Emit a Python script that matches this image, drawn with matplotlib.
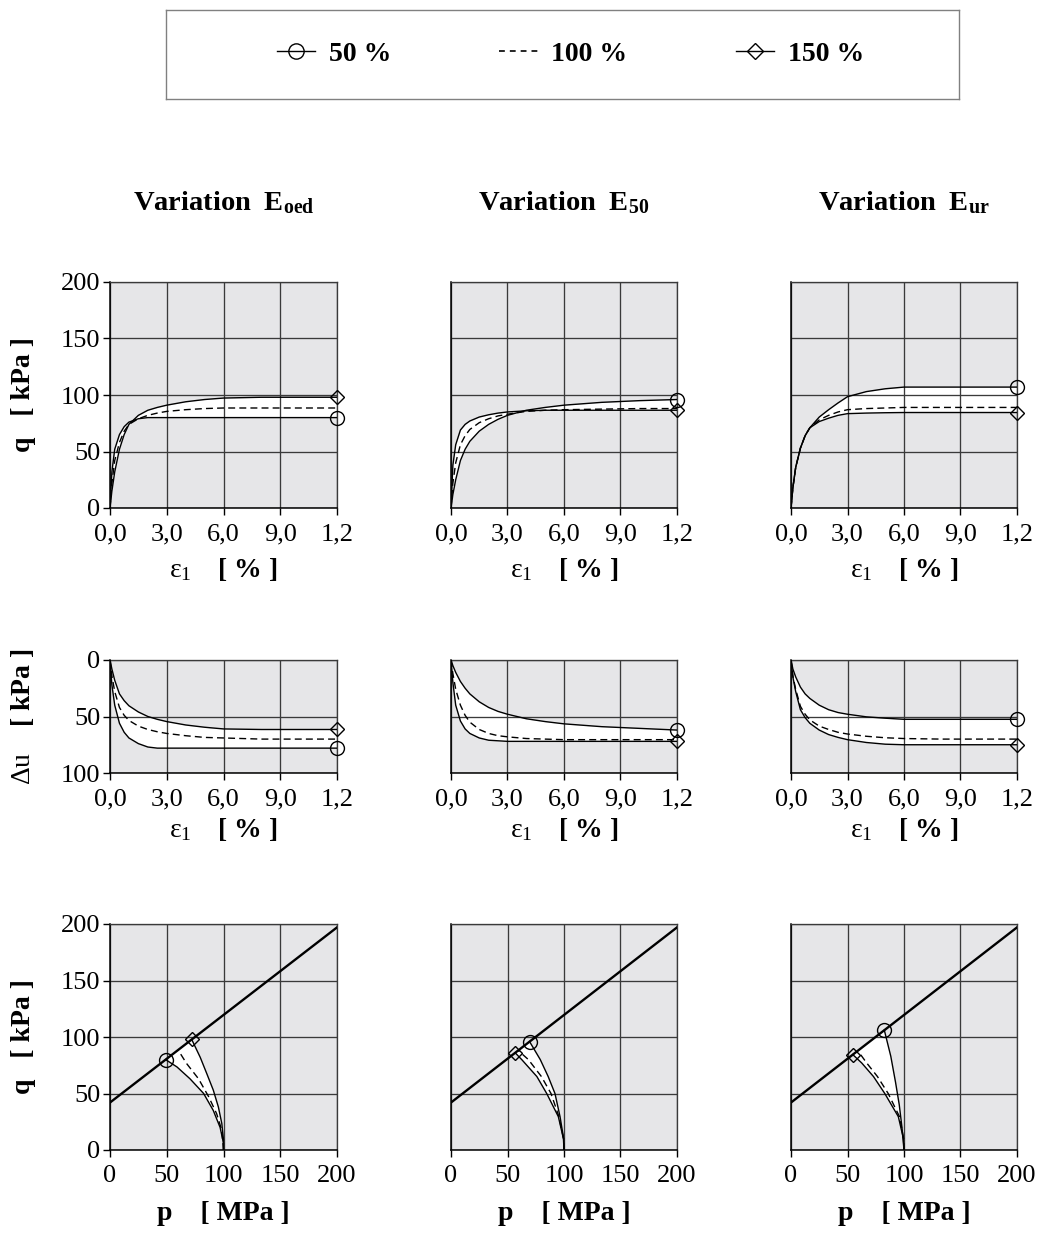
import matplotlib
matplotlib.use("Agg")
import matplotlib.pyplot as plt
from matplotlib.lines import Line2D
import numpy as np

plt.rcParams['font.family'] = ['Liberation Serif', 'DejaVu Serif']
plt.rcParams['mathtext.fontset'] = 'custom'
plt.rcParams['mathtext.rm'] = 'Liberation Serif'
plt.rcParams['mathtext.it'] = 'Liberation Serif:italic'
plt.rcParams['mathtext.bf'] = 'Liberation Serif:bold'

# ---------------------------------------------------------------- data
levels = ["50 %", "100 %", "150 %"]
titles = [r"$\mathbf{Variation\ \ E_{oed}}$",
          r"$\mathbf{Variation\ \ E_{50}}$",
          r"$\mathbf{Variation\ \ E_{ur}}$"]

strain = [0, 0.1, 0.25, 0.5, 0.75, 1.0, 1.5, 2.0, 2.5, 3.0, 4.0, 5.0, 6.0, 8.0, 10.0, 12.0]
strain_ticks = [0, 3, 6, 9, 12]
strain_ticklabels = ["0,0", "3,0", "6,0", "9,0", "1,2"]

# deviatoric stress q [kPa] against axial strain
q_oed_50 = [0, 32, 52, 65, 72, 76, 79, 80, 80, 80, 80, 80, 80, 80, 80, 80]
q_oed_100 = [0, 22, 42, 58, 68, 74, 79, 82, 84, 85.5, 87, 88, 88.5, 88.5, 88.5, 88.5]
q_oed_150 = [0, 15, 32, 52, 65, 74, 82, 86.5, 89, 91, 94, 96, 97.3, 98, 98, 98]

q_e50_50 = [0, 12, 25, 42, 52, 59, 68, 74, 78.5, 82, 86.5, 89, 91, 93.5, 95, 96]
q_e50_100 = [0, 22, 40, 56, 64, 69.5, 75.5, 79, 81.5, 83, 85.5, 86.5, 87, 87.5, 88, 88]
q_e50_150 = [0, 38, 56, 69, 74, 77, 80.5, 82.5, 84, 85, 86, 86.5, 86.5, 86.5, 86.5, 86.5]

q_eur_50 = [0, 18, 36, 53, 64, 71, 80.5, 87, 93, 98.5, 103, 105.5, 107, 107, 107, 107]
q_eur_100 = [0, 18, 36, 53, 64, 71, 78, 82, 85, 87, 88, 88.5, 89, 89, 89, 89]
q_eur_150 = [0, 18, 36, 53, 64, 71, 76.5, 79.5, 82, 83.5, 84, 84.3, 84.5, 84.5, 84.5, 84.5]

# excess pore pressure du [kPa] against axial strain
du_oed_50 = [0, 22, 40, 56, 64, 69, 74, 77, 78, 78, 78, 78, 78, 78, 78, 78]
du_oed_100 = [0, 14, 28, 42, 49, 53.5, 58.5, 61.5, 63.5, 65, 67, 68.5, 69, 70, 70, 70]
du_oed_150 = [0, 8, 18, 30, 36, 40.5, 46, 50, 52.5, 54.5, 57.5, 59.5, 61, 61.5, 61.5, 61.5]

du_e50_50 = [0, 5, 11, 19, 25, 30, 37, 42, 45.5, 48, 52, 54.5, 56.5, 59, 60.5, 62]
du_e50_100 = [0, 12, 26, 40, 49, 55, 61.5, 65, 67, 68, 69.5, 70, 70.5, 70.5, 70.5, 70.5]
du_e50_150 = [0, 20, 40, 54, 61, 65, 69, 71, 71.5, 72, 72, 72, 72, 72, 72, 72]

du_eur_50 = [0, 8, 15, 24, 30, 34, 40, 44, 46.5, 48, 50.3, 51.5, 52.5, 52.5, 52.5, 52.5]
du_eur_100 = [0, 14, 26, 41, 48, 53, 58.5, 61.5, 64, 65.5, 67.5, 68.8, 69.5, 70, 70, 70]
du_eur_150 = [0, 15, 28, 44, 51, 56, 62, 66, 68.5, 70.5, 73, 74.5, 75, 75, 75, 75]

# effective stress paths (p, q)
path_oed_50_p = [100, 100, 97, 91, 82.5, 70.5, 59, 49]
path_oed_50_q = [0, 6, 20, 35, 50, 63, 73.5, 80]
path_oed_100_p = [100, 99.5, 98.5, 94, 87, 78, 67.5, 60]
path_oed_100_q = [0, 6, 17.5, 32, 47, 63, 76.5, 88.5]
path_oed_150_p = [100, 100, 98.5, 95.5, 91, 85.3, 79.5, 72]
path_oed_150_q = [0, 9, 23.5, 38, 53, 67.5, 82, 97.8]

path_e50_50_p = [100, 99.7, 96.5, 92, 86, 79, 69.5]
path_e50_50_q = [0, 10, 29.5, 50, 65, 80, 96]
path_e50_100_p = [100, 99.6, 95.5, 88.5, 80, 68.5, 59.5]
path_e50_100_q = [0, 10, 29.5, 50, 65, 80, 88]
path_e50_150_p = [100, 99.5, 95, 84.7, 76, 62.6, 56.8]
path_e50_150_q = [0, 10, 29.5, 50, 65, 80, 86]

path_eur_50_p = [100, 98.2, 95.8, 92.5, 88.3, 82.6]
path_eur_50_q = [0, 20, 40, 60, 83, 106]
path_eur_100_p = [100, 99.7, 96, 86, 76.5, 67, 59.7]
path_eur_100_q = [0, 10, 29.5, 50, 65, 77, 87]
path_eur_150_p = [100, 99.5, 95, 83, 73, 62.6, 54.7]
path_eur_150_q = [0, 10, 29.5, 50, 65, 77, 84.4]

# Mohr-Coulomb failure line in p-q space
failure_p = [0, 200]
failure_q = [42, 197]

q_series = [(q_oed_50, q_oed_100, q_oed_150),
            (q_e50_50, q_e50_100, q_e50_150),
            (q_eur_50, q_eur_100, q_eur_150)]
du_series = [(du_oed_50, du_oed_100, du_oed_150),
             (du_e50_50, du_e50_100, du_e50_150),
             (du_eur_50, du_eur_100, du_eur_150)]
path_series = [((path_oed_50_p, path_oed_50_q), (path_oed_100_p, path_oed_100_q), (path_oed_150_p, path_oed_150_q)),
               ((path_e50_50_p, path_e50_50_q), (path_e50_100_p, path_e50_100_q), (path_e50_150_p, path_e50_150_q)),
               ((path_eur_50_p, path_eur_50_q), (path_eur_100_p, path_eur_100_q), (path_eur_150_p, path_eur_150_q))]

# ---------------------------------------------------------------- styling
W, H = 1041, 1233
BG = "#e6e6e8"
GRID = "#3a3a3a"
LW = 1.0
DASH = (0, (5, 3))
TICK_FS = 19
LABEL_FS = 20

fig = plt.figure(figsize=(W / 100, H / 100), dpi=100)


def box(l, t, r, b):
    return [l / W, 1 - b / H, (r - l) / W, (b - t) / H]


col_x = [(110, 337), (451, 677), (791, 1017)]
row_y = [(282, 508), (660, 773), (924, 1150)]


def style_axes(ax, show_y):
    ax.set_facecolor(BG)
    ax.set_axisbelow('line')
    ax.grid(True, color=GRID, lw=0.95)
    for side in ("left", "bottom"):
        ax.spines[side].set_color("black")
        ax.spines[side].set_linewidth(1.1)
    for side in ("top", "right"):
        ax.spines[side].set_color(GRID)
        ax.spines[side].set_linewidth(0.95)
    ax.tick_params(axis='x', direction='out', length=5, width=1, pad=6,
                   labelsize=TICK_FS)
    if show_y:
        ax.tick_params(axis='y', direction='out', length=5, width=1, pad=2,
                       labelsize=TICK_FS)
    else:
        ax.tick_params(axis='y', length=0, labelleft=False)


def end_markers(ax, x50, y50, x150, y150):
    ax.plot([x50], [y50], marker='o', ms=10, mfc='none', mec='black',
            mew=1.0, ls='none', clip_on=False, zorder=5)
    ax.plot([x150], [y150], marker='D', ms=7, mfc='none', mec='black',
            mew=1.0, ls='none', clip_on=False, zorder=5)


def strain_panel(ax, s50, s100, s150):
    lo = np.minimum(np.minimum(s50, s100), s150)
    hi = np.maximum(np.maximum(s50, s100), s150)
    ax.fill_between(strain, lo, hi, color='white', lw=0, zorder=1)
    ax.plot(strain, s50, color='black', lw=LW, zorder=3)
    ax.plot(strain, s100, color='black', lw=LW, ls=DASH, zorder=3)
    ax.plot(strain, s150, color='black', lw=LW, zorder=3)
    end_markers(ax, strain[-1], s50[-1], strain[-1], s150[-1])
    ax.set_xlim(0, 12)
    ax.set_xticks(strain_ticks)
    ax.set_xticklabels(strain_ticklabels)


eps_label = r"$\mathrm{ε}_{\mathrm{1}}\ \ \ \ \mathbf{[\ \%\ ]}$"

for c in range(3):
    l, r = col_x[c]

    # title above each column
    fig.text((l + r) / 2 / W, 1 - 203 / H, titles[c], ha='center', va='center',
             fontsize=20.5)

    # q - strain
    ax = fig.add_axes(box(l, row_y[0][0], r, row_y[0][1]))
    style_axes(ax, c == 0)
    strain_panel(ax, *q_series[c])
    ax.set_ylim(0, 200)
    ax.set_yticks([0, 50, 100, 150, 200])
    ax.set_xlabel(eps_label, fontsize=LABEL_FS, labelpad=8)
    if c == 0:
        ax.set_ylabel("q   [ kPa ]", fontsize=LABEL_FS, fontweight='bold',
                      labelpad=18)

    # pore pressure - strain
    ax = fig.add_axes(box(l, row_y[1][0], r, row_y[1][1]))
    style_axes(ax, c == 0)
    strain_panel(ax, *du_series[c])
    ax.set_ylim(100, 0)
    ax.set_yticks([0, 50, 100])
    ax.set_xlabel(eps_label, fontsize=LABEL_FS, labelpad=4)
    if c == 0:
        ax.set_ylabel(r"$\mathrm{Δu}\ \ \ \ \mathbf{[\ kPa\ ]}$",
                      fontsize=LABEL_FS, labelpad=18)

    # stress paths
    ax = fig.add_axes(box(l, row_y[2][0], r, row_y[2][1]))
    style_axes(ax, c == 0)
    (p50, q50), (p100, q100), (p150, q150) = path_series[c]
    ax.fill(list(p50) + list(p150[::-1]), list(q50) + list(q150[::-1]),
            color='white', lw=0, zorder=1)
    ax.plot(failure_p, failure_q, color='black', lw=1.7, zorder=3)
    ax.plot(p50, q50, color='black', lw=LW, zorder=3)
    ax.plot(p100, q100, color='black', lw=LW, ls=DASH, zorder=3)
    ax.plot(p150, q150, color='black', lw=LW, zorder=3)
    end_markers(ax, p50[-1], q50[-1], p150[-1], q150[-1])
    ax.set_xlim(0, 200)
    ax.set_ylim(0, 200)
    ax.set_xticks([0, 50, 100, 150, 200])
    ax.set_yticks([0, 50, 100, 150, 200])
    ax.set_xlabel("p    [ MPa ]", fontsize=LABEL_FS, fontweight='bold',
                  labelpad=10)
    if c == 0:
        ax.set_ylabel("q   [ kPa ]", fontsize=LABEL_FS, fontweight='bold',
                      labelpad=18)

# ---------------------------------------------------------------- legend
lax = fig.add_axes(box(166, 10, 959, 99))
lax.set_xticks([])
lax.set_yticks([])
lax.set_facecolor('white')
for sp in lax.spines.values():
    sp.set_color('#808080')
    sp.set_linewidth(1.0)

handles = [
    Line2D([], [], color='black', lw=LW, marker='o', ms=11, mfc='none', mec='black'),
    Line2D([], [], color='black', lw=1.2, ls=(0, (3.5, 3))),
    Line2D([], [], color='black', lw=LW, marker='D', ms=8, mfc='none', mec='black'),
]
lax.legend(handles, levels, loc='center', bbox_to_anchor=(0.51, 0.5), ncol=3,
           frameon=False, prop={'weight': 'bold', 'size': 20},
           handlelength=1.37, handletextpad=0.5, columnspacing=3.9)

fig.savefig("out.png", dpi=100)
